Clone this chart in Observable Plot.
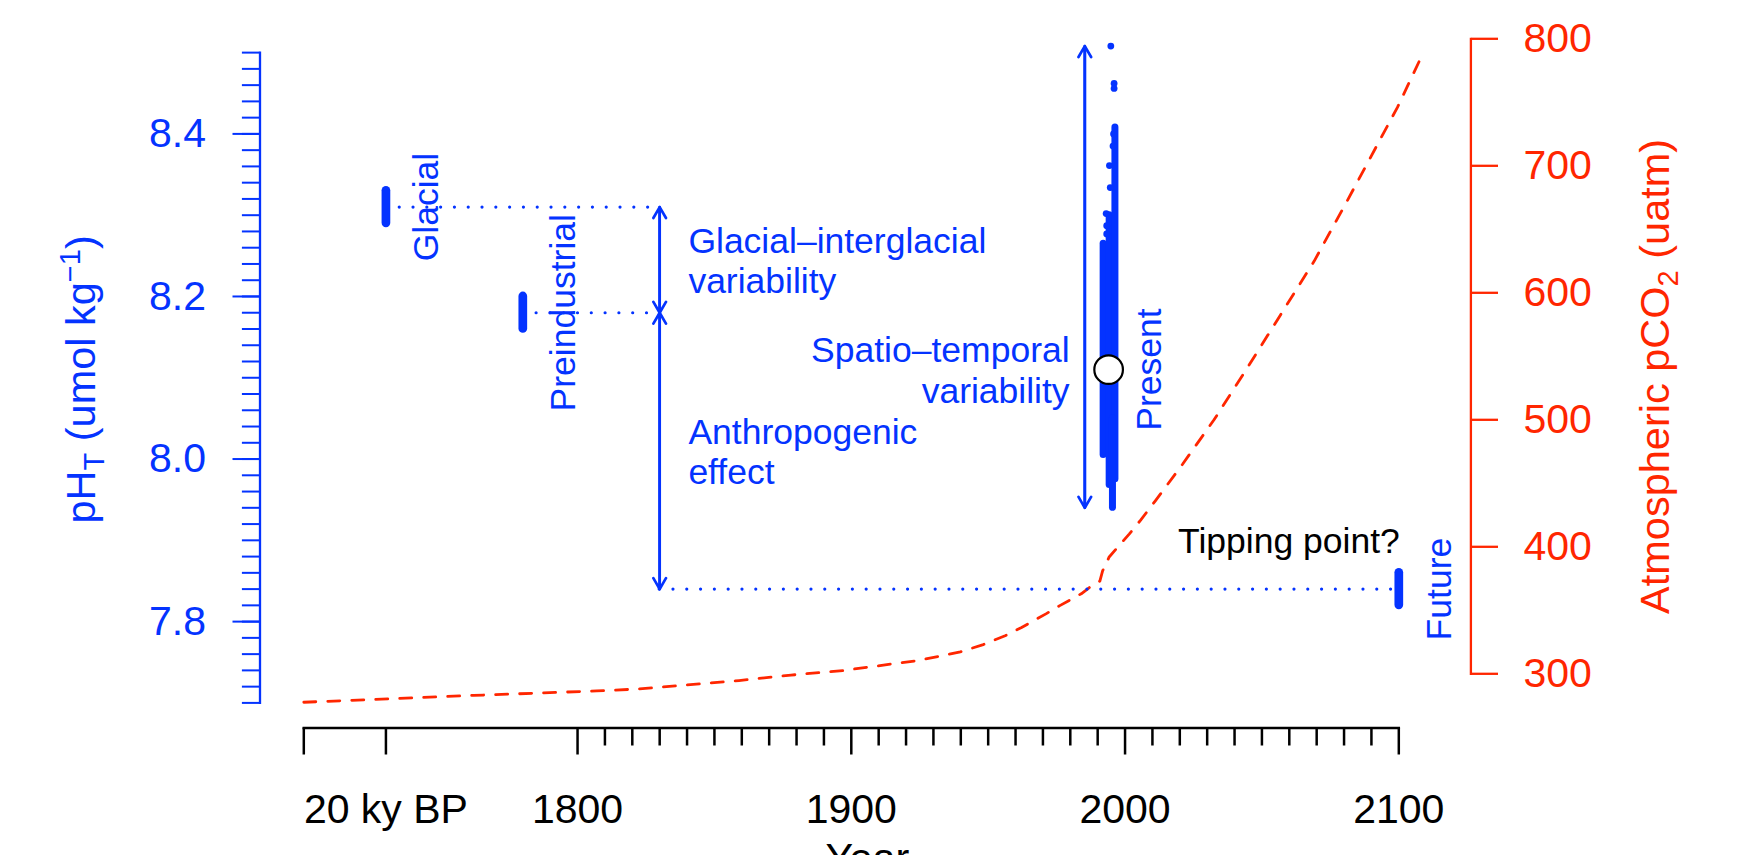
<!DOCTYPE html>
<html>
<head>
<meta charset="utf-8">
<script src="https://cdn.jsdelivr.net/npm/d3@7"></script>
<script src="https://cdn.jsdelivr.net/npm/@observablehq/plot@0.6"></script>
<style>
html, body { margin: 0; padding: 0; background: #fff; overflow: hidden; }
</style>
</head>
<body>
<div id="chart"></div>
<script>
// ---------------- data ----------------
// Atmospheric pCO2 (uatm) vs year (red dashed curve)
const co2Year  = [1700, 1762, 1807, 1822, 1859, 1878, 1897, 1924.5, 1939.4, 1948.2, 1956.2, 1962.2, 1971.1, 1976, 1984, 1987, 1990.8, 1991.8, 1994.2, 2001.5, 2005.7, 2011, 2021, 2032.5, 2044.7, 2056.9, 2069.1, 2081.3, 2093.5, 2099.5, 2107.4];
const co2Value = [277.6, 283, 286.5, 288, 294.7, 299, 302.6, 310.5, 317, 323, 330, 336.5, 347.2, 353.5, 363, 368, 373, 381, 392, 410, 421, 436, 465, 500, 541, 583, 625, 673, 722, 746, 782];

// Periods: mean pH and where they sit on the time axis
const periodName = ["Glacial", "Preindustrial", "Present", "Future"];
const periodYear = [1730, 1780, 1994, 2100];
const periodPH   = [8.31, 8.18, 8.11, 7.84];

// Range bars of glacial, preindustrial and future pH
const barName = ["Glacial", "Preindustrial", "Future"];
const barYear = [1730, 1780, 2100];
const barLow  = [8.29, 8.16, 7.82];
const barHigh = [8.33, 8.20, 7.86];

// Present-day observations: dense strips and single outliers
const presentStripYear = [1992.0, 1994.2, 1996.3, 1995.4];
const presentStripLow  = [8.005, 7.968, 7.975, 7.94];
const presentStripHigh = [8.265, 8.30, 8.408, 8.05];
const presentDotYear = [1994.8, 1996.0, 1996.0, 1994.3, 1994.6, 1993.1, 1993.3, 1993.3, 1995.8, 1995.6];
const presentDotPH   = [8.508, 8.462, 8.456, 8.361, 8.334, 8.302, 8.287, 8.277, 8.40, 8.385];

// Annotation arrows
const budgetYear = 1830;     // year of the glacial/anthropogenic arrows
const spreadYear = 1985.3;   // year of the spatio-temporal arrow
const budgetLabels = ["Glacial\u2013interglacial\nvariability", "Anthropogenic\neffect"];
const spreadLabel = "Spatio\u2013temporal\nvariability";
const tippingLabel = "Tipping point?";

// Axis ticks and labels
const phTicks = [7.8, 8.0, 8.2, 8.4];
const phTickLabels = ["7.8", "8.0", "8.2", "8.4"];
const co2Ticks = [300, 400, 500, 600, 700, 800];
const co2TickLabels = ["300", "400", "500", "600", "700", "800"];
const yearTicks = [1700, 1730, 1800, 1900, 2000, 2100];
const yearTickLabels = ["", "20 ky BP", "1800", "1900", "2000", "2100"];
const phMinorTicks = d3.range(0, 41).map(i => +(7.7 + i * 0.02).toFixed(2));
const yearMinorTicks = d3.range(1810, 2100, 10).filter(y => y % 100 !== 0);

const yLabel = "pHT (umol kg\u22121)";
const y2Label = "Atmospheric pCO2 (uatm)";
const xLabel = "Year";

// ---------------- tables ----------------
const co2 = co2Year.map((year, i) => ({year, pco2: co2Value[i]}));
const periods = periodName.map((name, i) => ({name, year: periodYear[i], ph: periodPH[i]}));
const bars = barName.map((name, i) => ({name, year: barYear[i], lo: barLow[i], hi: barHigh[i]}));
const strips = presentStripYear.map((year, i) => ({year, lo: presentStripLow[i], hi: presentStripHigh[i]}));
const presentDots = presentDotYear.map((year, i) => ({year, ph: presentDotPH[i]}));
const presentExtent = d3.extent([...presentStripLow, ...presentStripHigh, ...presentDotPH]);
const present = periods[2];

const glacial = periods[0], pre = periods[1], future = periods[3];
const budget = [
  {year: budgetYear, from: glacial.ph, to: pre.ph, label: budgetLabels[0]},
  {year: budgetYear, from: pre.ph, to: future.ph, label: budgetLabels[1]}
];
const arrows = [...budget, {year: spreadYear, from: presentExtent[0], to: presentExtent[1]}];
const dotted = [
  {from: glacial.year, to: budgetYear, ph: glacial.ph},
  {from: pre.year, to: budgetYear, ph: pre.ph},
  {from: budgetYear, to: future.year, ph: future.ph}
];

// ---------------- styling ----------------
const blue = "#0433ff";
const red = "#ff2600";
const co2ToPH = d3.scaleLinear([300, 800], [7.7358, 8.5170]); // right axis mapped on the pH scale

const chart = Plot.plot({
  width: 1748,
  height: 855,
  marginTop: 38.3,
  marginBottom: 127.5,
  marginLeft: 259.5,
  marginRight: 277.6,
  style: {fontFamily: "'Liberation Sans', Arial, Helvetica, sans-serif", background: "white", overflow: "visible"},
  x: {domain: [1700, 2100], insetLeft: 43.8, insetRight: 72.1},
  y: {domain: [7.7, 8.5170], insetBottom: 25.1},
  marks: [
    // CO2 curve
    Plot.line(co2, {x: "year", y: d => co2ToPH(d.pco2), stroke: red, strokeWidth: 2.8, strokeDasharray: "12 12"}),
    // dotted reference levels
    Plot.ruleY(dotted, {y: "ph", x1: "from", x2: "to", stroke: blue, strokeWidth: 3.2, strokeDasharray: "0 13.8", strokeLinecap: "round"}),
    // range bars
    Plot.ruleX(bars, {x: "year", y1: "lo", y2: "hi", stroke: blue, strokeWidth: 8.7, strokeLinecap: "round"}),
    // present observations
    Plot.ruleX(strips, {x: "year", y1: "lo", y2: "hi", stroke: blue, strokeWidth: 7, strokeLinecap: "round"}),
    Plot.dot(presentDots, {x: "year", y: "ph", r: 3.4, fill: blue}),
    // double-headed arrows
    Plot.arrow(arrows, {x1: "year", x2: "year", y1: "from", y2: "to", stroke: blue, strokeWidth: 2.7, headLength: 7, headAngle: 60}),
    Plot.arrow(arrows, {x1: "year", x2: "year", y1: "to", y2: "from", stroke: blue, strokeWidth: 2.7, headLength: 7, headAngle: 60}),
    // present mean
    Plot.dot([present], {x: "year", y: "ph", r: 14.3, fill: "white", stroke: "black", strokeWidth: 2.2}),
    // annotation texts
    Plot.text(budget, {x: "year", y: d => (d.from + d.to) / 2, text: "label", textAnchor: "start", lineAnchor: "middle", lineHeight: 1.15, dx: 28.7, fill: blue, fontSize: 35.5}),
    Plot.text([present], {x: spreadYear, y: "ph", text: () => spreadLabel, textAnchor: "end", lineAnchor: "middle", lineHeight: 1.15, dx: -15.2, fill: blue, fontSize: 35.5}),
    Plot.text(periods, {x: "year", y: "ph", text: "name", rotate: -90, textAnchor: "middle", lineAnchor: "bottom", dx: 52.5, fill: blue, fontSize: 35.5}),
    Plot.text([future], {x: "year", y: "ph", text: () => tippingLabel, textAnchor: "end", lineAnchor: "bottom", dx: 1, dy: -36.3, fill: "black", fontSize: 35.5}),
    // axes
    Plot.axisY({anchor: "left", ticks: phMinorTicks, tickSize: 17.6, tickFormat: () => "", stroke: blue, strokeWidth: 2, label: null}),
    Plot.axisY({anchor: "left", ticks: phTicks, tickSize: 27, tickPadding: 27, tickFormat: d => phTickLabels[phTicks.indexOf(d)], stroke: blue, fill: blue, strokeWidth: 2, fontSize: 41, label: null}),
    Plot.axisY({anchor: "right", ticks: co2Ticks.map(co2ToPH), tickSize: 26.6, tickPadding: 26, tickFormat: d => co2TickLabels[co2Ticks.indexOf(Math.round(co2ToPH.invert(d)))], stroke: red, fill: red, strokeWidth: 2.3, fontSize: 41, label: null}),
    Plot.axisX({anchor: "bottom", ticks: yearMinorTicks, tickSize: 18, tickFormat: () => "", stroke: "black", strokeWidth: 2.5, label: null}),
    Plot.axisX({anchor: "bottom", ticks: yearTicks, tickSize: 27, tickPadding: 38.8, tickFormat: d => yearTickLabels[yearTicks.indexOf(d)], stroke: "black", fill: "black", strokeWidth: 2.5, fontSize: 41, label: null}),
    Plot.frame({anchor: "left", insetTop: 13.8, insetBottom: 25.1, stroke: blue, strokeWidth: 2.3}),
    Plot.frame({anchor: "right", insetBottom: 54.2, stroke: red, strokeWidth: 2.3}),
    Plot.frame({anchor: "bottom", insetLeft: 43.8, insetRight: 72.1, stroke: "black", strokeWidth: 2.5}),
    // axis titles
    Plot.text([yLabel], {frameAnchor: "left", rotate: -90, textAnchor: "middle", lineAnchor: "bottom", dx: -165.5, dy: -4, fill: blue, fontSize: 41.5}),
    Plot.text([y2Label], {frameAnchor: "right", rotate: -90, textAnchor: "middle", lineAnchor: "bottom", dx: 198.3, dy: -7, fill: red, fontSize: 41.5}),
    Plot.text([xLabel], {frameAnchor: "bottom", textAnchor: "middle", lineAnchor: "bottom", dx: 2, dy: 144, fill: "black", fontSize: 41.5})
  ]
});

// sub/superscripts in the axis titles
d3.select(chart).selectAll("text").each(function () {
  const t = this.textContent;
  if (t === yLabel) {
    const s = d3.select(this).text(null);
    s.append("tspan").text("pH");
    s.append("tspan").attr("font-size", 29).attr("dy", 9).text("T");
    s.append("tspan").attr("dy", -9).text(" (umol kg");
    s.append("tspan").attr("font-size", 29).attr("dy", -15).text("\u22121");
    s.append("tspan").attr("dy", 15).text(")");
  } else if (t === y2Label) {
    const s = d3.select(this).text(null);
    s.append("tspan").text("Atmospheric pCO");
    s.append("tspan").attr("font-size", 29).attr("dy", 9).text("2");
    s.append("tspan").attr("dy", -9).text(" (uatm)");
  }
});

document.getElementById("chart").appendChild(chart);
</script>
</body>
</html>
